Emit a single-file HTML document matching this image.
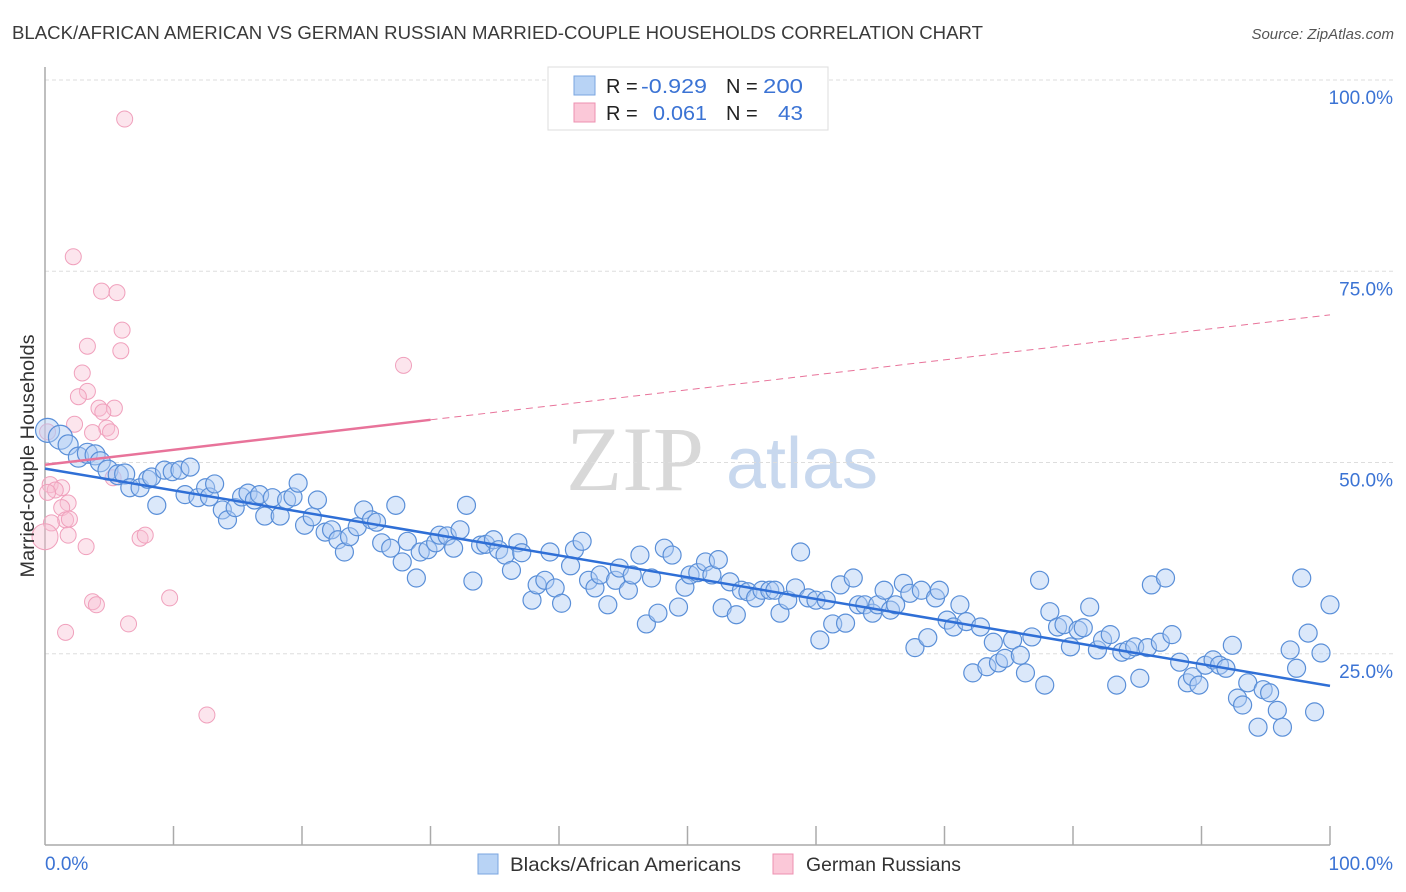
<!DOCTYPE html>
<html><head><meta charset="utf-8"><style>
body{margin:0;background:#fff;width:1406px;height:892px;overflow:hidden;font-family:"Liberation Sans",sans-serif}
svg{position:absolute;left:0;top:0}
</style></head><body>
<svg id="chart" width="1406" height="892" xmlns="http://www.w3.org/2000/svg">
<text x="12" y="39" font-size="18" fill="#3a3a3a" textLength="971" lengthAdjust="spacingAndGlyphs">BLACK/AFRICAN AMERICAN VS GERMAN RUSSIAN MARRIED-COUPLE HOUSEHOLDS CORRELATION CHART</text>
<text x="1394" y="39" font-size="15" fill="#555" text-anchor="end" font-style="italic">Source: ZipAtlas.com</text>
<g>
<text x="635" y="490" font-size="92" fill="#d8d8d8" font-family="Liberation Serif, serif" text-anchor="middle">ZIP</text>
<text x="802" y="488" font-size="72" fill="#c8d8ee" text-anchor="middle">atlas</text>
</g>
<g id="grid"></g>
<g id="axes"></g>
<g id="pinkpts"></g>
<g id="bluepts"></g>
<g id="lines"></g>
<text transform="translate(34,456) rotate(-90)" font-size="19" fill="#333" text-anchor="middle" textLength="243" lengthAdjust="spacingAndGlyphs">Married-couple Households</text>
<text x="45" y="870" font-size="19" fill="#3b73d4">0.0%</text>
<text x="1393" y="870" font-size="19" fill="#3b73d4" text-anchor="end">100.0%</text>
<g>
<rect x="548" y="67" width="280" height="63" fill="#fff" stroke="#ddd"/>
<rect x="574" y="76" width="21" height="19" fill="#b8d3f5" stroke="#7aa6e0"/>
<rect x="574" y="103" width="21" height="19" fill="#fbc8d8" stroke="#ee90b0"/>
<text x="606" y="93" font-size="20" fill="#222">R = </text>
<text x="641" y="93" font-size="20" fill="#3b73d4" textLength="66" lengthAdjust="spacingAndGlyphs">-0.929</text>
<text x="726" y="93" font-size="20" fill="#222">N = </text>
<text x="763" y="93" font-size="20" fill="#3b73d4" textLength="40" lengthAdjust="spacingAndGlyphs">200</text>
<text x="606" y="120" font-size="20" fill="#222">R = </text>
<text x="653" y="120" font-size="20" fill="#3b73d4" textLength="54" lengthAdjust="spacingAndGlyphs">0.061</text>
<text x="726" y="120" font-size="20" fill="#222">N = </text>
<text x="778" y="120" font-size="20" fill="#3b73d4" textLength="25" lengthAdjust="spacingAndGlyphs">43</text>
</g>
<g>
<rect x="478" y="854" width="20" height="20" fill="#b8d3f5" stroke="#7aa6e0"/>
<text x="510" y="871" font-size="19.5" fill="#333" textLength="231" lengthAdjust="spacingAndGlyphs">Blacks/African Americans</text>
<rect x="773" y="854" width="20" height="20" fill="#fbc8d8" stroke="#ee90b0"/>
<text x="806" y="871" font-size="19.5" fill="#333" textLength="155" lengthAdjust="spacingAndGlyphs">German Russians</text>
</g>
</svg>
<script>
const yTicks=[100,75,50,25];
const yTickLabels=["100.0%","75.0%","50.0%","25.0%"];
const blueX=[0.2,1.2,1.8,2.6,3.3,3.9,4.3,4.9,5.7,6.2,6.6,7.4,8.0,8.3,8.7,9.3,9.9,10.5,10.9,11.3,11.9,12.5,12.8,13.2,13.8,14.2,14.8,15.3,15.8,16.3,16.7,17.1,17.7,18.3,18.8,19.3,19.7,20.2,20.8,21.2,21.8,22.3,22.8,23.3,23.7,24.3,24.8,25.4,25.8,26.2,26.9,27.3,27.8,28.2,28.9,29.2,29.8,30.4,30.7,31.3,31.8,32.3,32.8,33.3,33.9,34.3,34.9,35.3,35.8,36.3,36.8,37.1,37.9,38.3,38.9,39.3,39.7,40.2,40.9,41.2,41.8,42.3,42.8,43.2,43.8,44.4,44.7,45.4,45.7,46.3,46.8,47.2,47.7,48.2,48.8,49.3,49.8,50.2,50.8,51.4,51.9,52.4,52.7,53.3,53.8,54.2,54.7,55.3,55.8,56.4,56.8,57.2,57.8,58.4,58.8,59.4,60.0,60.3,60.8,61.3,61.9,62.3,62.9,63.3,63.8,64.4,64.8,65.3,65.8,66.2,66.8,67.3,67.7,68.2,68.7,69.3,69.6,70.2,70.7,71.2,71.7,72.2,72.8,73.3,73.8,74.2,74.7,75.3,75.9,76.3,76.8,77.4,77.8,78.2,78.8,79.3,79.8,80.4,80.8,81.3,81.9,82.3,82.9,83.4,83.8,84.3,84.8,85.2,85.8,86.1,86.8,87.2,87.7,88.3,88.9,89.3,89.8,90.3,90.9,91.4,91.9,92.4,92.8,93.2,93.6,94.4,94.8,95.3,95.9,96.3,96.9,97.4,97.8,98.3,98.8,99.3,100];
const blueY=[54.2,53.3,52.3,50.7,51.2,51.0,50.1,49.0,48.4,48.5,46.7,46.7,47.8,48.1,44.4,49.0,48.8,49.0,45.8,49.4,45.4,46.7,45.5,47.2,43.8,42.5,44.1,45.5,46.0,45.1,45.8,43.0,45.4,43.0,45.1,45.5,47.3,41.8,42.9,45.1,40.9,41.2,39.9,38.3,40.3,41.6,43.8,42.5,42.2,39.5,38.8,44.4,37.0,39.7,34.9,38.3,38.6,39.5,40.5,40.4,38.8,41.2,44.4,34.5,39.2,39.3,39.9,38.6,37.9,35.9,39.5,38.2,32.0,34.0,34.6,38.3,33.6,31.6,36.5,38.6,39.7,34.6,33.6,35.3,31.4,34.6,36.2,33.3,35.3,37.9,28.9,34.9,30.3,38.8,37.9,31.1,33.7,35.3,35.6,37.0,35.3,37.3,31.0,34.4,30.1,33.3,33.1,32.3,33.3,33.3,33.3,30.3,32.0,33.6,38.3,32.3,32.0,26.8,32.0,28.9,34.0,29.0,34.9,31.4,31.4,30.3,31.4,33.3,30.7,31.4,34.2,32.9,25.8,33.3,27.1,32.3,33.3,29.4,28.5,31.4,29.2,22.5,28.5,23.3,26.5,23.8,24.4,26.8,24.8,22.5,27.2,34.6,20.9,30.5,28.5,28.8,25.9,28.1,28.4,31.1,25.5,26.8,27.5,20.9,25.2,25.5,25.9,21.8,25.8,34.0,26.5,34.9,27.5,23.9,21.2,22.0,20.9,23.5,24.2,23.5,23.1,26.1,19.2,18.3,21.2,15.4,20.3,19.9,17.6,15.4,25.5,23.1,34.9,27.7,17.4,25.1,31.4];
const pinkX=[6.2,2.2,4.4,5.6,6.0,3.3,5.9,27.9,2.9,3.3,2.6,4.2,5.4,4.5,2.3,4.8,5.1,3.7,0.2,5.3,0.4,1.3,0.8,0.2,1.8,1.3,1.6,1.9,0.5,1.8,7.4,7.8,0,3.2,9.7,3.7,4.0,6.5,1.6,12.6];
const pinkY=[94.9,76.9,72.4,72.2,67.3,65.2,64.6,62.7,61.7,59.3,58.6,57.1,57.1,56.6,55.0,54.5,54.0,53.9,54.0,48.0,47.1,46.7,46.4,46.1,44.7,44.1,42.5,42.6,42.1,40.5,40.1,40.5,40.3,39.0,32.3,31.8,31.4,28.9,27.8,17.0];
const blueFit=[49.2,20.8];
const pinkFit=[49.7,69.3];
const pinkSolidEnd=30;

const NS="http://www.w3.org/2000/svg";
const X0=45,X1=1330,YB=845,PPU=7.65;
const xs=v=>X0+(X1-X0)*v/100;
const ys=v=>YB-PPU*v;
function mk(tag,attrs,parent){const e=document.createElementNS(NS,tag);for(const k in attrs)e.setAttribute(k,attrs[k]);parent.appendChild(e);return e;}
const grid=document.getElementById('grid');
yTicks.forEach((t,i)=>{
  const l=mk('line',{x1:X0,x2:1393,y1:ys(t),y2:ys(t),stroke:'#ddd','stroke-dasharray':'4,3'},grid);
  
  
  const tx=mk('text',{x:1393,y:ys(t)+24,'font-size':19,fill:'#3b73d4','text-anchor':'end'},grid);
  tx.textContent=yTickLabels[i];
  
  
});
const axes=document.getElementById('axes');
const ya=mk('line',{x1:X0,x2:X0,y1:67,y2:YB,stroke:'#aaa','stroke-width':1.5},axes);


const xa=mk('line',{x1:X0,x2:X1,y1:YB,y2:YB,stroke:'#aaa','stroke-width':1.5},axes);


for(let i=1;i<=10;i++){
  const t=mk('line',{x1:xs(i*10),x2:xs(i*10),y1:826,y2:YB,stroke:'#aaa','stroke-width':1.5},axes);
  
  
}
const pg=document.getElementById('pinkpts');
pinkX.forEach((x,i)=>{
  const c=mk('circle',{cx:xs(x),cy:ys(pinkY[i]),r:i==32?13:8,fill:'rgba(248,190,210,0.4)',stroke:'#f0a0bc','stroke-width':1},pg);
  
  
});
const bg=document.getElementById('bluepts');
blueX.forEach((x,i)=>{
  const c=mk('circle',{cx:xs(x),cy:ys(blueY[i]),r:i<2?12:(i<10?10:9),fill:'rgba(175,205,245,0.45)',stroke:'#5a8fd8','stroke-width':1.2},bg);
  
  
});
const lg=document.getElementById('lines');
const bl=mk('line',{x1:xs(0),y1:ys(blueFit[0]),x2:xs(100),y2:ys(blueFit[1]),stroke:'#2f6fd6','stroke-width':2.5},lg);


const pm=pinkFit[0]+(pinkFit[1]-pinkFit[0])*pinkSolidEnd/100;
const pl=mk('line',{x1:xs(0),y1:ys(pinkFit[0]),x2:xs(pinkSolidEnd),y2:ys(pm),stroke:'#e8739a','stroke-width':2.5},lg);


const pd=mk('line',{x1:xs(pinkSolidEnd),y1:ys(pm),x2:xs(100),y2:ys(pinkFit[1]),stroke:'#e8739a','stroke-width':1,'stroke-dasharray':'7,5'},lg);


</script>
</body></html>
